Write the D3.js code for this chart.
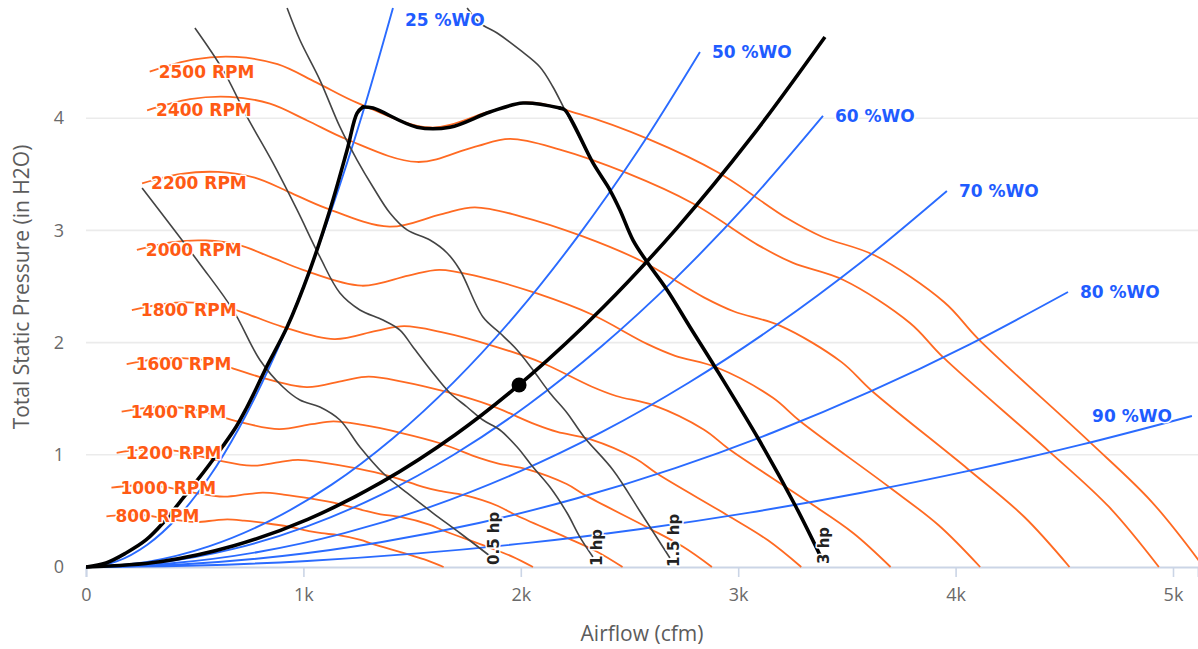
<!DOCTYPE html>
<html><head><meta charset="utf-8">
<script src="https://cdn.jsdelivr.net/npm/d3@7"></script>
<style>body{margin:0;background:#fff}svg{display:block}</style>
</head><body>
<svg id="chart" width="1198" height="649"></svg>
<script>
// ---------- DATA (airflow cfm, total static pressure in H2O) ----------
const fan800  = [[94,0.452],[159,0.463],[221,0.466],[282,0.459],[339,0.442],[400,0.423],[508,0.401],[593,0.416],[650,0.424],[727,0.413],[830,0.390],[931,0.360],[1033,0.318],[1084,0.301],[1161,0.284],[1263,0.242],[1314,0.208],[1475,0.116],[1569,0.059],[1645,0]];
const fan1000 = [[117,0.707],[199,0.724],[276,0.727],[353,0.717],[424,0.691],[500,0.661],[635,0.627],[742,0.649],[813,0.662],[908,0.646],[1037,0.609],[1163,0.563],[1292,0.497],[1355,0.470],[1451,0.444],[1579,0.378],[1643,0.325],[1844,0.181],[1961,0.093],[2056,0]];
const fan1200 = [[141,1.018],[239,1.043],[331,1.048],[423,1.033],[509,0.995],[601,0.953],[762,0.903],[890,0.935],[975,0.954],[1090,0.930],[1245,0.878],[1396,0.810],[1550,0.715],[1626,0.678],[1741,0.640],[1895,0.544],[1971,0.468],[2213,0.260],[2353,0.134],[2468,0]];
const fan1400 = [[164,1.385],[279,1.419],[386,1.426],[494,1.405],[593,1.354],[701,1.296],[888,1.228],[1038,1.273],[1138,1.298],[1272,1.266],[1452,1.194],[1629,1.103],[1808,0.973],[1897,0.922],[2031,0.871],[2211,0.740],[2300,0.636],[2581,0.354],[2745,0.182],[2879,0]];
const fan1600 = [[187,1.809],[319,1.853],[441,1.862],[564,1.836],[678,1.769],[801,1.693],[1015,1.604],[1187,1.662],[1300,1.696],[1453,1.653],[1659,1.560],[1861,1.440],[2067,1.271],[2168,1.204],[2321,1.138],[2527,0.967],[2628,0.831],[2950,0.462],[3137,0.238],[3290,0]];
const fan1800 = [[211,2.289],[359,2.346],[497,2.357],[635,2.323],[763,2.239],[901,2.143],[1142,2.031],[1335,2.104],[1463,2.146],[1635,2.093],[1867,1.974],[2094,1.823],[2325,1.609],[2439,1.524],[2612,1.440],[2843,1.223],[2957,1.052],[3319,0.585],[3530,0.301],[3701,0]];
const fan2000 = [[234,2.826],[398,2.896],[552,2.910],[705,2.868],[848,2.764],[1001,2.646],[1269,2.507],[1483,2.597],[1625,2.649],[1817,2.583],[2074,2.438],[2327,2.250],[2583,1.986],[2710,1.882],[2902,1.778],[3158,1.510],[3285,1.299],[3688,0.722],[3922,0.372],[4113,0]];
const fan2200 = [[258,3.420],[438,3.504],[607,3.521],[776,3.470],[932,3.344],[1101,3.201],[1396,3.033],[1632,3.143],[1788,3.206],[1998,3.126],[2282,2.949],[2559,2.723],[2842,2.403],[2981,2.277],[3192,2.151],[3474,1.828],[3614,1.571],[4056,0.874],[4314,0.450],[4524,0]];
const fan2400 = [[281,4.070],[478,4.170],[662,4.190],[846,4.130],[1017,3.980],[1201,3.810],[1523,3.610],[1780,3.740],[1950,3.815],[2180,3.720],[2489,3.510],[2792,3.240],[3100,2.860],[3252,2.710],[3482,2.560],[3790,2.175],[3942,1.870],[4425,1.040],[4706,0.535],[4935,0]];
const fan2500 = [[293,4.416],[498,4.525],[690,4.546],[881,4.481],[1059,4.319],[1251,4.134],[1586,3.917],[1854,4.058],[2031,4.140],[2271,4.036],[2593,3.809],[2908,3.516],[3229,3.103],[3388,2.941],[3627,2.778],[3948,2.360],[4106,2.029],[4609,1.128],[4902,0.581],[5141,0]];
const rpmNames  = ["800 RPM","1000 RPM","1200 RPM","1400 RPM","1600 RPM","1800 RPM","2000 RPM","2200 RPM","2400 RPM","2500 RPM"];
const rpmCurves = [fan800,fan1000,fan1200,fan1400,fan1600,fan1800,fan2000,fan2200,fan2400,fan2500];

const wo25 = [[0,0],[141,0.050],[282,0.199],[424,0.448],[565,0.797],[706,1.246],[847,1.794],[988,2.441],[1130,3.189],[1271,4.035],[1412,4.982]];
const wo50 = [[0,0],[282,0.046],[565,0.184],[847,0.413],[1130,0.734],[1412,1.148],[1694,1.652],[1977,2.249],[2259,2.938],[2542,3.718],[2824,4.590]];
const wo60 = [[0,0],[339,0.040],[678,0.161],[1017,0.362],[1356,0.643],[1695,1.005],[2034,1.447],[2373,1.970],[2712,2.573],[3051,3.256],[3390,4.020]];
const wo70 = [[0,0],[396,0.034],[792,0.134],[1188,0.302],[1584,0.536],[1980,0.838],[2376,1.206],[2772,1.642],[3168,2.145],[3564,2.714],[3960,3.351]];
const wo80 = [[0,0],[452,0.025],[903,0.098],[1355,0.221],[1807,0.392],[2259,0.613],[2710,0.882],[3162,1.201],[3614,1.569],[4065,1.985],[4517,2.451]];
const wo90 = [[0,0],[509,0.013],[1017,0.054],[1526,0.121],[2035,0.215],[2544,0.337],[3052,0.485],[3561,0.660],[4070,0.861],[4578,1.090],[5087,1.346]];
const woNames  = ["25 %WO","50 %WO","60 %WO","70 %WO","80 %WO","90 %WO"];
const woCurves = [wo25,wo50,wo60,wo70,wo80,wo90];

const hp05 = [[258,3.378],[524,2.701],[676,2.291],[800,1.845],[906,1.604],[984,1.488],[1076,1.426],[1168,1.310],[1260,1.070],[1366,0.838],[1477,0.660],[1596,0.481],[1720,0.303],[1858,0.098]];
const hp1  = [[501,4.804],[630,4.430],[741,4.011],[860,3.601],[971,3.182],[1076,2.763],[1168,2.442],[1260,2.291],[1366,2.201],[1444,2.112],[1504,1.961],[1596,1.729],[1674,1.551],[1753,1.426],[1826,1.310],[1904,1.221],[1983,1.070],[2056,0.891],[2134,0.713],[2213,0.481],[2272,0.267],[2332,0.089]];
const hp15 = [[925,4.982],[984,4.697],[1076,4.340],[1168,3.922],[1247,3.627],[1320,3.387],[1398,3.155],[1477,3.004],[1582,2.914],[1661,2.799],[1720,2.647],[1826,2.228],[1904,2.086],[1983,1.934],[2056,1.756],[2134,1.551],[2213,1.373],[2291,1.159],[2424,0.865],[2553,0.481],[2686,0.080]];
const hp3  = [[1753,4.982],[1812,4.848],[1891,4.759],[1996,4.608],[2088,4.456],[2148,4.278],[2203,4.073],[2332,3.601],[2410,3.360],[2456,3.182],[2516,2.914],[2581,2.718],[2673,2.469],[2778,2.139],[2893,1.783],[3096,1.132],[3266,0.535],[3376,0.107]];
const hpNames  = ["0.5 hp","1 hp","1.5 hp","3 hp"];
const hpCurves = [hp05,hp1,hp15,hp3];

const systemCurve = [[0,0],[340,0.047],[680,0.189],[1020,0.425],[1360,0.756],[1700,1.181],[2039,1.701],[2379,2.315],[2719,3.023],[3059,3.826],[3399,4.724]];
const operatingPoint = [1992, 1.622];

const surgeLine   = [[0,0],[92,0.036],[184,0.125],[276,0.241],[354,0.392],[428,0.570],[506,0.758],[566,0.909],[630,1.078],[690,1.248],[736,1.408],[782,1.586],[828,1.774],[925,2.139],[1030,2.647],[1122,3.182],[1201,3.717],[1247,4.046],[1274,4.100]];
const envelopeTop = [[1274,4.100],[1320,4.090],[1523,3.920],[1674,3.920],[1858,4.055],[2010,4.135],[2180,4.090]];

const xTicks = [0,1000,2000,3000,4000,5000];
const yTicks = [0,1,2,3,4];

// ---------- CHART ----------
const svg = d3.select("#chart");
const x = d3.scaleLinear().domain([0,5115]).range([86,1198]);
const y = d3.scaleLinear().domain([0,5]).range([567,6]);
const ORANGE = "#ff6a22", ORANGE_T = "#ff5a14", BLUE = "#2a6bff", BLUE_T = "#1f5cff";

svg.append("defs").append("clipPath").attr("id","plot")
  .append("rect").attr("x",86).attr("y",6).attr("width",1112).attr("height",563);

// gridlines
svg.append("g").selectAll("line").data(yTicks.filter(d=>d>0)).join("line")
  .attr("x1",86).attr("x2",1198).attr("y1",d=>y(d)).attr("y2",d=>y(d))
  .attr("stroke","#ebebeb").attr("stroke-width",1.6);

// x axis
const xAxis = svg.append("g").attr("transform","translate(0,567)")
  .call(d3.axisBottom(x).tickValues(xTicks).tickFormat(d=>d===0?"0":(d/1000)+"k").tickSize(10).tickPadding(11));
xAxis.select(".domain").attr("stroke","#cbd5e6").attr("stroke-width",2);
xAxis.selectAll(".tick line").attr("stroke","#cbd5e6").attr("stroke-width",1.6);
xAxis.selectAll("text").attr("fill","#6a6a6a").attr("font-family","'Open Sans', sans-serif").attr("font-size",18);

// y axis
const yAxis = svg.append("g").attr("transform","translate(86,0)")
  .call(d3.axisLeft(y).tickValues(yTicks).tickFormat(d3.format("d")).tickSize(0).tickPadding(22));
yAxis.select(".domain").remove();
yAxis.selectAll("text").attr("fill","#6a6a6a").attr("font-family","'Open Sans', sans-serif").attr("font-size",18);

// titles
svg.append("text").attr("x",642).attr("y",641).attr("text-anchor","middle")
  .attr("font-family","'Open Sans', sans-serif").attr("font-size",21).attr("fill","#5c5c5c").text("Airflow (cfm)");
svg.append("text").attr("transform","translate(29,287) rotate(-90)").attr("text-anchor","middle")
  .attr("font-family","'Open Sans', sans-serif").attr("font-size",21).attr("fill","#5c5c5c").text("Total Static Pressure (in H2O)");

const line = d3.line().x(d=>x(d[0])).y(d=>y(d[1])).curve(d3.curveCatmullRom.alpha(0.5));
const plot = svg.append("g").attr("clip-path","url(#plot)");

plot.selectAll(".rpm").data(rpmCurves).join("path").attr("class","rpm")
  .attr("d",line).attr("fill","none").attr("stroke",ORANGE).attr("stroke-width",1.8);
plot.selectAll(".wo").data(woCurves).join("path").attr("class","wo")
  .attr("d",line).attr("fill","none").attr("stroke",BLUE).attr("stroke-width",1.9);
plot.selectAll(".hp").data(hpCurves).join("path").attr("class","hp")
  .attr("d",line).attr("fill","none").attr("stroke","#444").attr("stroke-width",1.6);

// operating envelope (surge line, max speed, max power)
const envelopeRight = hp3.filter(d=>d[0]>2180);
[surgeLine, envelopeTop, [envelopeTop[envelopeTop.length-1]].concat(envelopeRight)].forEach(seg=>{
  plot.append("path").attr("d",line(seg)).attr("fill","none").attr("stroke","#000")
    .attr("stroke-width",3.6).attr("stroke-linejoin","round").attr("stroke-linecap","round");
});
plot.append("path").attr("d",line(systemCurve)).attr("fill","none").attr("stroke","#000").attr("stroke-width",3.6);
plot.append("circle").attr("cx",x(operatingPoint[0])).attr("cy",y(operatingPoint[1])).attr("r",7.5).attr("fill","#000");

// labels
const lab = svg.append("g").attr("font-family","'DejaVu Sans', Verdana, sans-serif").attr("font-weight","bold")
  .attr("stroke","#fff").attr("stroke-width",3).attr("paint-order","stroke").attr("stroke-linejoin","round");

rpmCurves.forEach((c,i)=>{
  lab.append("text").attr("x",x(c[0][0])+9).attr("y",y(c[0][1])).attr("dominant-baseline","central")
    .attr("font-size",17).attr("fill",ORANGE_T).text(rpmNames[i]);
});
woCurves.forEach((c,i)=>{
  const e = c[c.length-1];
  const ex = x(e[0]), ey = Math.max(y(e[1]),20);
  const left = ex + 95 > 1198;
  lab.append("text").attr("x",left?ex-20:ex+12).attr("y",ey).attr("dominant-baseline","central")
    .attr("text-anchor",left?"end":"start").attr("font-size",17).attr("fill",BLUE_T).text(woNames[i]);
});
hpCurves.forEach((c,i)=>{
  const e = c[c.length-1];
  lab.append("text").attr("transform",`translate(${x(e[0])+4},${y(e[1])+9}) rotate(-90)`)
    .attr("dominant-baseline","central").attr("font-size",15).attr("fill","#222").text(hpNames[i]);
});
</script>
</body></html>
